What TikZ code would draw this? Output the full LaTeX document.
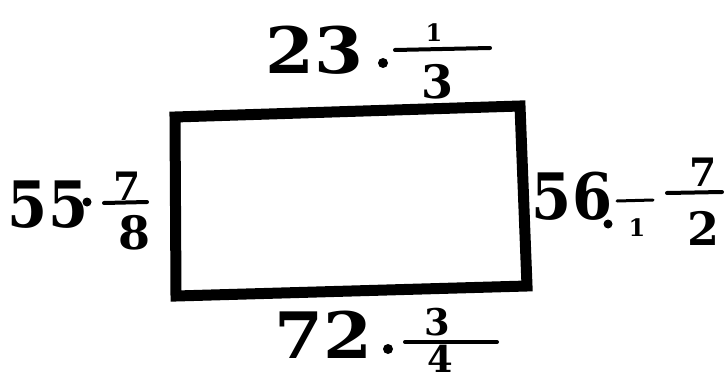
\documentclass[tikz,border=0pt]{standalone}
\usepackage{fontspec}
\setmainfont{DejaVu Serif}
\begin{document}
\begin{tikzpicture}[x=1pt,y=-1pt,
  ink/.style={line width=11pt,line join=miter,black},
  bar/.style={line width=4pt,line cap=round},
  big/.style={inner sep=0pt,font=\fontsize{64}{64}\bfseries\selectfont},
  mid/.style={inner sep=0pt,font=\fontsize{46}{46}\bfseries\selectfont},
  tiny/.style={inner sep=0pt,font=\fontsize{24}{24}\bfseries\selectfont},
  dotm/.style={circle,fill=black,inner sep=0pt,minimum size=10pt}]
\useasboundingbox (0,0) rectangle (727,385);
% quadrilateral
\coordinate (tl) at (175,117);
\coordinate (tr) at (520,106);
\coordinate (br) at (527,286);
\coordinate (bl) at (176,296);
\draw[ink] (tl) -- (tr) -- (br) -- (bl) -- cycle;
% top label
\node[big,xscale=1.1] (t23) at (314,50) {23};
\node[dotm] (tdot) at (383,63) {};
\coordinate (tba) at (395,50); \coordinate (tbb) at (490,48);
\draw[bar] (tba) -- (tbb);
\node[tiny] (tnum) at (434,33) {1};
\node[mid] (tden) at (437,82) {3};
% bottom label
\node[big,xscale=1.1] (b72) at (323,335) {72};
\node[dotm] (bdot) at (388,349) {};
\coordinate (bba) at (405,342); \coordinate (bbb) at (497,342);
\draw[bar] (bba) -- (bbb);
\node[mid,scale=0.8] (bnum) at (437,322) {3};
\node[mid,scale=0.8] (bden) at (440,359) {4};
% left label
\node[big,xscale=0.9] (l55) at (48,205) {55};
\node[dotm,minimum size=9pt] (ldot) at (87,202) {};
\coordinate (lba) at (104,203); \coordinate (lbb) at (147,202);
\draw[bar] (lba) -- (lbb);
\node[mid,scale=0.85] (lnum) at (127,186) {7};
\node[mid] (lden) at (135,233) {8};
% right label
\node[big,xscale=0.9] (r56) at (572,196) {56};
\node[dotm,minimum size=9pt] (rdot) at (608,224) {};
\coordinate (rba) at (617,201); \coordinate (rbb) at (653,200);
\draw[bar,line width=3pt] (rba) -- (rbb);
\node[tiny] (rone) at (637,228) {1};
\coordinate (rca) at (667,193); \coordinate (rcb) at (722,192);
\draw[bar] (rca) -- (rcb);
\node[mid,scale=0.85] (rnum) at (703,172) {7};
\node[mid] (rden) at (703,228) {2};
\end{tikzpicture}
\end{document}
